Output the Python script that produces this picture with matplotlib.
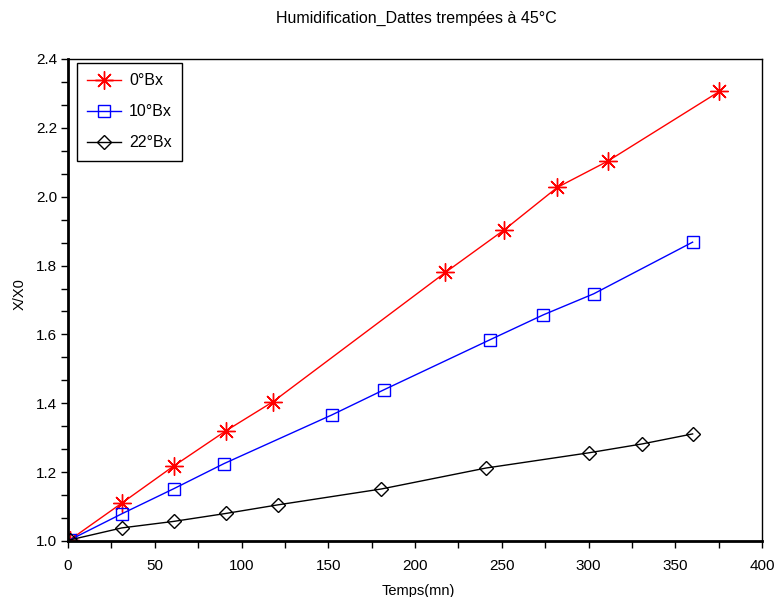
import matplotlib
matplotlib.use("Agg")
import matplotlib.pyplot as plt
from matplotlib.ticker import MultipleLocator, FormatStrFormatter

plt.rcParams["font.family"] = ["Liberation Sans", "DejaVu Sans"]

# ── données ───────────────────────────────────────────────────
t_0bx = [1, 31, 61, 91, 118, 217.5, 251.5, 282, 311, 375.5]
x_0bx = [1.003, 1.110, 1.218, 1.320, 1.404, 1.780, 1.904, 2.027, 2.103, 2.306]

t_10bx = [1, 31, 61, 90, 152, 182, 243, 274, 303, 360]
x_10bx = [1.003, 1.079, 1.152, 1.225, 1.366, 1.439, 1.584, 1.657, 1.718, 1.868]

t_22bx = [1, 31, 61, 91, 121, 180.5, 241, 300, 331, 360]
x_22bx = [1.003, 1.038, 1.057, 1.080, 1.105, 1.151, 1.212, 1.256, 1.282, 1.311]

labels = ["0°Bx", "10°Bx", "22°Bx"]

# ── figure ────────────────────────────────────────────────────
W, H = 776, 597
fig = plt.figure(figsize=(W / 100, H / 100), dpi=100)
ax = fig.add_axes([68 / W, 1 - 541 / H, 694 / W, 482 / H])

ax.plot(t_0bx, x_0bx, color="#ff0000", lw=1.0, marker=(8, 2, 0), ms=13,
        mew=1.0, label=labels[0])
ax.plot(t_10bx, x_10bx, color="#0000ff", lw=1.0, marker="s", ms=8,
        mfc="none", mew=1.0, label=labels[1])
ax.plot(t_22bx, x_22bx, color="black", lw=1.0, marker="D", ms=7.5,
        mfc="none", mew=1.0, label=labels[2])

ax.set_xlim(0, 400)
ax.set_ylim(1.0, 2.4)
ax.xaxis.set_major_locator(MultipleLocator(50))
ax.xaxis.set_minor_locator(MultipleLocator(25))
ax.yaxis.set_major_locator(MultipleLocator(0.2))
ax.yaxis.set_minor_locator(MultipleLocator(0.2 / 3))
ax.yaxis.set_major_formatter(FormatStrFormatter("%.1f"))

ax.tick_params(which="both", direction="out", length=5, width=1,
               labelsize=11, pad=3)
ax.tick_params(axis="x", pad=8)
ax.tick_params(top=False, right=False)

for s in ["left", "bottom"]:
    ax.spines[s].set_linewidth(2.0)
for s in ["top", "right"]:
    ax.spines[s].set_linewidth(1.0)

# titre et libellés d'axes
fig.text(416 / W, 1 - 18 / H, "Humidification_Dattes trempées à 45°C",
         fontsize=11.5, ha="center", va="center")
fig.text(418 / W, 1 - 591 / H, "Temps(mn)", fontsize=10.5,
         ha="center", va="center")
fig.text(20 / W, 1 - 294 / H, "X/X0", fontsize=10.5, rotation=90,
         ha="center", va="center")

leg = ax.legend(loc="upper left", bbox_to_anchor=(9 / 694, 1 - 4 / 482),
                borderaxespad=0, fontsize=11.5, fancybox=False, framealpha=1,
                edgecolor="black", borderpad=0.65, labelspacing=1.0,
                handlelength=2.1, handletextpad=0.5)
leg.get_frame().set_linewidth(1.0)

fig.savefig("out.png", dpi=100)
